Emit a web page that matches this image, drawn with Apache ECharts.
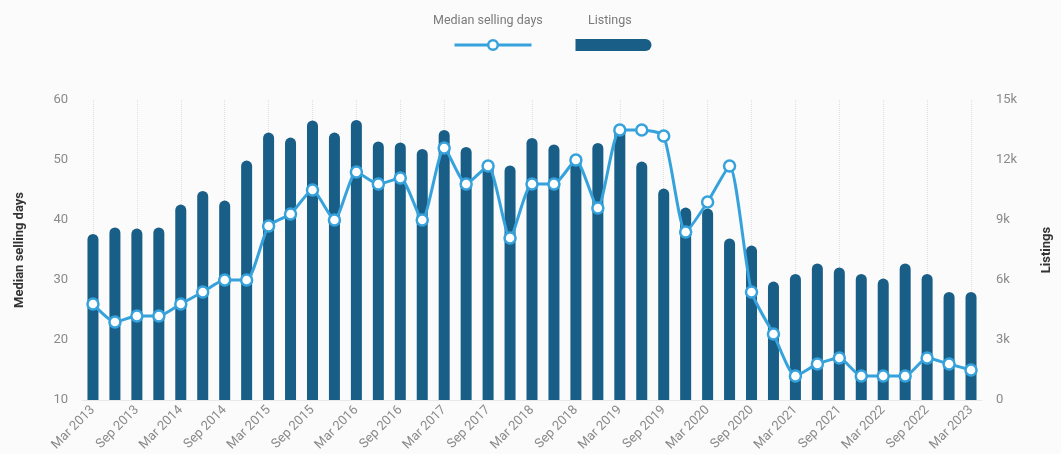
<!DOCTYPE html>
<html>
<head>
<meta charset="utf-8">
<script src="https://cdn.jsdelivr.net/npm/echarts@6/dist/echarts.min.js"></script>
<style>
  html, body { margin: 0; padding: 0; background: #fbfbfb; }
  #chart { width: 1061px; height: 454px; }
</style>
</head>
<body>
<div id="chart"></div>
<script>
const months = ['Mar', 'Jun', 'Sep', 'Dec']
const labels = []
for (let year = 2013; year <= 2022; year++) {
  months.forEach((m) => labels.push(`${m} ${year}`))
}
labels.push('Mar 2023')

const sellingDays = [26, 23, 24, 24, 26, 28, 30, 30, 39, 41, 45, 40, 48, 46, 47, 40, 52, 46, 49, 37, 46,
  46, 50, 42, 55, 55, 54, 38, 43, 49, 28, 21, 14, 16, 17, 14, 14, 14, 17, 16, 15]
const listings = [8300, 8630, 8570, 8630, 9770, 10450, 9970, 11970, 13370, 13120, 13980, 13370, 14000, 12930,
  12880, 12550, 13500, 12650, 12000, 11730, 13100, 12780, 12200, 12850, 13800, 11920, 10570, 9620, 9570,
  8080, 7720, 5920, 6300, 6830, 6630, 6300, 6070, 6830, 6300, 5400, 5400]

const lineColor = '#36a2dc'
const barColor = '#185e87'
const fontFamily = 'Roboto, sans-serif'

const chart = echarts.init(document.getElementById('chart'))

chart.setOption({
  animation: false,
  backgroundColor: '#fbfbfb',
  textStyle: { fontFamily },
  grid: { left: 82, right: 67, top: 100, bottom: 54 },
  graphic: [
    { type: 'text', left: 433, top: 14, style: { text: 'Median selling days', fill: '#7a7a7a', fontSize: 12.5, fontFamily } },
    { type: 'text', left: 588, top: 14, style: { text: 'Listings', fill: '#7a7a7a', fontSize: 12.5, fontFamily } },
  ],
  legend: {
    left: 448,
    top: 34,
    itemWidth: 77,
    itemHeight: 12,
    itemGap: 42,
    formatter: () => '',
    data: [
      { name: 'Median selling days', lineStyle: { width: 3 }, itemStyle: { borderWidth: 2.5 } },
      { name: 'Listings', icon: 'path://M0,0 L70,0 A6,6 0 0 1 70,12 L0,12 Z' },
    ],
  },
  xAxis: {
    type: 'category',
    data: labels,
    axisTick: { show: false },
    axisLine: { lineStyle: { color: '#e8e8e8' } },
    axisLabel: { interval: 1, rotate: 45, color: '#8a8a8a', fontSize: 13, margin: 8 },
    splitLine: {
      show: true,
      interval: (index) => index % 2 === 0,
      alignWithLabel: true,
      lineStyle: { color: '#e0e0e0', type: 'dotted' },
    },
  },
  yAxis: [
    {
      type: 'value',
      min: 10,
      max: 60,
      interval: 10,
      name: 'Median selling days',
      nameLocation: 'middle',
      nameGap: 56,
      nameTextStyle: { color: '#333', fontSize: 13, fontWeight: 'bold' },
      axisLabel: { color: '#8a8a8a', fontSize: 13, margin: 14 },
      splitLine: { show: false },
    },
    {
      type: 'value',
      min: 0,
      max: 15000,
      interval: 3000,
      name: 'Listings',
      nameLocation: 'middle',
      nameGap: 58,
      nameTextStyle: { color: '#333', fontSize: 13, fontWeight: 'bold' },
      axisLabel: {
        color: '#8a8a8a',
        fontSize: 13,
        margin: 14,
        formatter: (value) => (value === 0 ? '0' : `${value / 1000}k`),
      },
      splitLine: { show: false },
    },
  ],
  series: [
    {
      name: 'Median selling days',
      type: 'line',
      data: sellingDays,
      yAxisIndex: 0,
      z: 3,
      smooth: 0.2,
      symbol: 'circle',
      symbolSize: 11,
      lineStyle: { color: lineColor, width: 3 },
      itemStyle: { color: '#fff', borderColor: lineColor, borderWidth: 2.5 },
    },
    {
      name: 'Listings',
      type: 'bar',
      data: listings,
      yAxisIndex: 1,
      barWidth: 11,
      itemStyle: { color: barColor, borderRadius: [6, 6, 0, 0] },
    },
  ],
})
</script>
</body>
</html>
